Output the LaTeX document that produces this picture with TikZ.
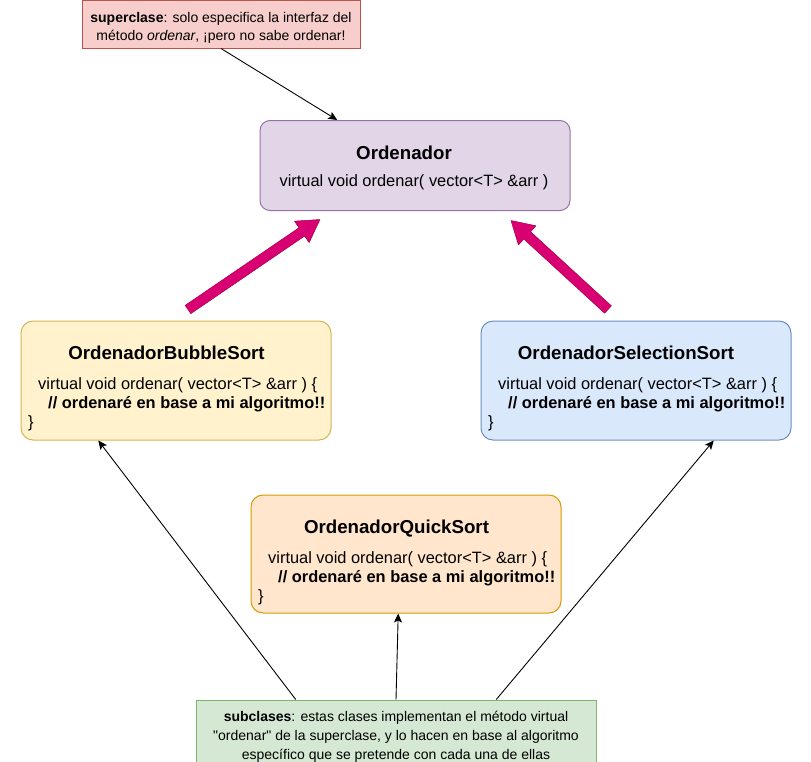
\documentclass[tikz,border=0pt]{standalone}
\usepackage{fontspec}
\setmainfont{Liberation Sans}[Ligatures=TeXOff]
\usetikzlibrary{arrows.meta,calc}
\definecolor{redfill}{HTML}{F8CECC}
\definecolor{redline}{HTML}{B85450}
\definecolor{purfill}{HTML}{E1D5E7}
\definecolor{purline}{HTML}{9673A6}
\definecolor{yelfill}{HTML}{FFF2CC}
\definecolor{yelline}{HTML}{D6B656}
\definecolor{blufill}{HTML}{DAE8FC}
\definecolor{bluline}{HTML}{6C8EBF}
\definecolor{orafill}{HTML}{FFE6CC}
\definecolor{oraline}{HTML}{D79B00}
\definecolor{grefill}{HTML}{D5E8D4}
\definecolor{greline}{HTML}{82B366}
\definecolor{pinkfill}{HTML}{D80073}
\definecolor{pinkline}{HTML}{A50040}
\tikzset{
  box/.style={draw, line width=1pt, inner sep=0pt, rounded corners=12pt, minimum width=310pt},
  notebox/.style={draw, line width=1pt, inner sep=0pt},
  ttl/.style={inner sep=0pt, anchor=base, font=\fontsize{18.7}{22}\selectfont\bfseries},
  body/.style={inner sep=0pt, anchor=base west, font=\fontsize{16.4}{19}\selectfont},
  bodyc/.style={inner sep=0pt, anchor=base, font=\fontsize{16.4}{19}\selectfont},
  notetxt/.style={inner sep=0pt, anchor=base, font=\fontsize{14}{19}\selectfont},
  conn/.style={draw=black, line width=0.9pt, -{Stealth[length=9pt,width=8pt,inset=2pt]}},
  fatarrow/.style={fill=pinkfill, draw=pinkline, line width=0.5pt, line join=round}
}
\newcommand\pinkarrow[2]{%
  \coordinate (#1b) at ($(#2)!22pt!(#1)$);
  \filldraw[fatarrow] ($(#1)!5pt!90:(#2)$) -- ($(#1b)!5pt!90:(#2)$) -- ($(#1b)!13pt!90:(#2)$) -- (#2)
    -- ($(#1b)!13pt!-90:(#2)$) -- ($(#1b)!5pt!-90:(#2)$) -- ($(#1)!5pt!-90:(#2)$) -- cycle;%
}
\begin{document}
\begin{tikzpicture}[x=1pt,y=-1pt]
\useasboundingbox (0,0) rectangle (811,761);
% boxes
\node[notebox, fill=redfill, draw=redline, minimum width=278pt, minimum height=47.5pt] (red) at (221,24.25) {};
\node[box, fill=purfill, draw=purline, rounded corners=10pt, minimum height=90pt] (ord) at (415,165.5) {};
\node[box, fill=yelfill, draw=yelline, minimum height=119pt] (bub) at (176,380.5) {};
\node[box, fill=blufill, draw=bluline, minimum height=119pt] (sel) at (636,380.5) {};
\node[box, fill=orafill, draw=oraline, minimum height=118pt] (qui) at (406,554) {};
\node[notebox, fill=grefill, draw=greline, minimum width=400pt, minimum height=62.5pt] (green) at (396,731.25) {};
% texts
\node[notetxt] (redL1) at (221,22) {\textbf{superclase}: solo especifica la interfaz del};
\node[notetxt] (redL2) at (221,40.5) {método \textit{ordenar}, ¡pero no sabe ordenar!};
\node[ttl] (ordT) at (404,159) {Ordenador};
\node[bodyc] (ordL1) at (414,186) {virtual void ordenar( vector<T> \&arr )};
\node[ttl] (bubT) at (166.5,359) {OrdenadorBubbleSort};
\node[body] (bubL1) at (38,389) {virtual void ordenar( vector<T> \&arr ) \{};
\node[body] (bubL2) at (48,408) {\textbf{// ordenaré en base a mi algoritmo!!}};
\node[body] (bubL3) at (28,427) {\}};
\node[ttl] (selT) at (626,359) {OrdenadorSelectionSort};
\node[body] (selL1) at (498,389) {virtual void ordenar( vector<T> \&arr ) \{};
\node[body] (selL2) at (508,408) {\textbf{// ordenaré en base a mi algoritmo!!}};
\node[body] (selL3) at (488,427) {\}};
\node[ttl] (quiT) at (396.5,533) {OrdenadorQuickSort};
\node[body] (quiL1) at (268,563.5) {virtual void ordenar( vector<T> \&arr ) \{};
\node[body] (quiL2) at (278,582.5) {\textbf{// ordenaré en base a mi algoritmo!!}};
\node[body] (quiL3) at (258,601.5) {\}};
\node[notetxt] (greL1) at (396,721.5) {\textbf{subclases}: estas clases implementan el método virtual};
\node[notetxt] (greL2) at (396,740.5) {"ordenar" de la superclase, y lo hacen en base al algoritmo};
\node[notetxt] (greL3) at (396,759.5) {específico que se pretende con cada una de ellas};
% thin connectors
\draw[conn] (red.south) -- ($(ord.north west)!0.25!(ord.north east)$);
\draw[conn] ($(green.north west)!0.25!(green.north east)$) -- ($(bub.south west)!0.25!(bub.south east)$);
\draw[conn] ($(green.north west)!0.5!(green.north east)$) -- ($(qui.south west)!0.475!(qui.south east)$);
\draw[conn] ($(green.north west)!0.75!(green.north east)$) -- ($(sel.south west)!0.75!(sel.south east)$);
% fat pink arrows
\coordinate (lT) at (188,309.5);
\coordinate (lH) at (320,219.5);
\coordinate (rT) at (608,309.5);
\coordinate (rH) at (511,220.5);
\pinkarrow{lT}{lH}
\pinkarrow{rT}{rH}
\end{tikzpicture}
\end{document}
